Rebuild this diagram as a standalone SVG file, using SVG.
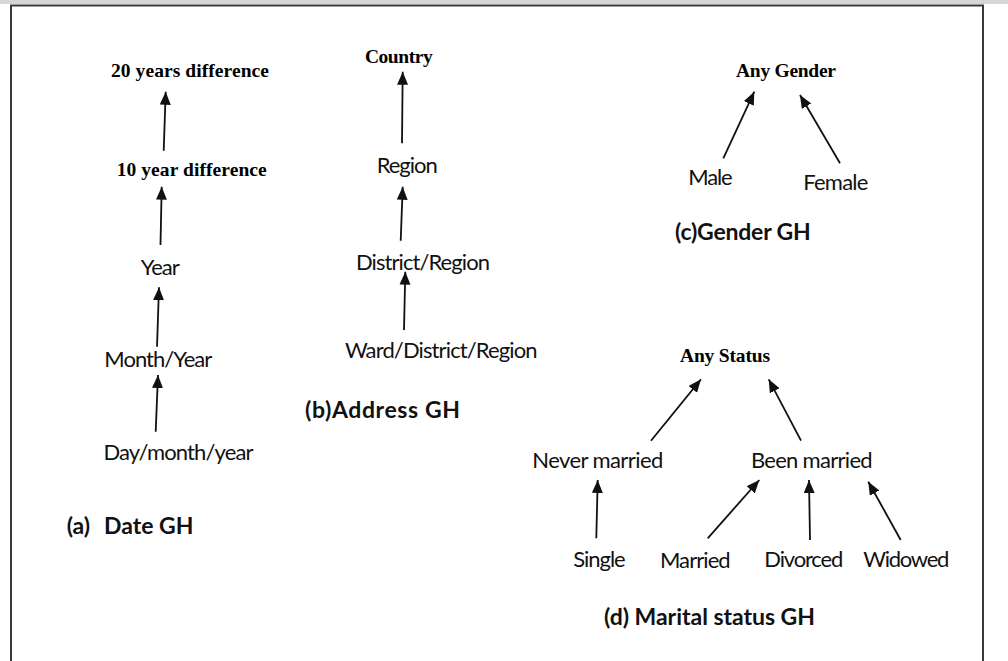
<svg xmlns="http://www.w3.org/2000/svg" width="1008" height="661" viewBox="0 0 1008 661">
  <style>
    .frame { stroke: #3a3a3a; stroke-width: 2; fill: none; }
    .b { font-family: "Liberation Serif", "Times New Roman", serif; font-weight: bold; font-size: 19.5px; fill: #000; text-anchor: middle; }
    .r { font-family: Lato, "Liberation Sans", sans-serif; font-size: 22px; fill: #111; text-anchor: middle; }
    .cap { font-family: Lato, "Liberation Sans", sans-serif; font-weight: bold; font-size: 23px; fill: #111; }
    .edge { stroke: #111; stroke-width: 1.8; fill: none; marker-end: url(#arrow); }
  </style>
  <defs>
    <marker id="arrow" markerUnits="userSpaceOnUse" markerWidth="14" markerHeight="12" refX="13" refY="5.5" orient="auto">
      <path d="M0,0 L13,5.5 L0,11 z" fill="#111"/>
    </marker>
  </defs>

  <rect width="1008" height="661" fill="#fff"/>
  <!-- page frame -->
  <rect x="0" y="0" width="1008" height="4" fill="#d6d6d6"/>
  <line class="frame" x1="10" y1="5.5" x2="984" y2="5.5"/>
  <line class="frame" x1="11" y1="5" x2="11" y2="661"/>
  <line class="frame" x1="983" y1="5" x2="983" y2="661"/>

  <!-- connectors -->
  <g id="connectors">
    <!-- date hierarchy -->
    <line class="edge" x1="163.7" y1="150.7" x2="165.7" y2="91.7"/>
    <line class="edge" x1="160.5" y1="245" x2="161.7" y2="186.7"/>
    <line class="edge" x1="157" y1="346.7" x2="159" y2="287.3"/>
    <line class="edge" x1="155.7" y1="431.7" x2="158" y2="375"/>
    <!-- address hierarchy -->
    <line class="edge" x1="402" y1="143.3" x2="402.7" y2="71.7"/>
    <line class="edge" x1="400.7" y1="240.7" x2="402.7" y2="186.7"/>
    <line class="edge" x1="404" y1="330" x2="405.3" y2="271.7"/>
    <!-- gender hierarchy -->
    <line class="edge" x1="723.3" y1="158.3" x2="754.3" y2="91.7"/>
    <line class="edge" x1="840" y1="163.3" x2="800" y2="95"/>
    <!-- marital status hierarchy -->
    <line class="edge" x1="651" y1="440.7" x2="701" y2="379.3"/>
    <line class="edge" x1="801" y1="440.7" x2="768.7" y2="379.3"/>
    <line class="edge" x1="596.3" y1="538.3" x2="597.7" y2="480"/>
    <line class="edge" x1="707.7" y1="538.3" x2="759.3" y2="480"/>
    <line class="edge" x1="810" y1="540" x2="809" y2="480"/>
    <line class="edge" x1="900.7" y1="540" x2="868.3" y2="481.7"/>
  </g>

  <!-- (a) date -->
  <g id="date-20y"><text class="b" x="190" y="77" textLength="158">20 years difference</text></g>
  <g id="date-10y"><text class="b" x="191.7" y="176" textLength="150">10 year difference</text></g>
  <g id="date-year"><text class="r" x="160.3" y="275" textLength="39">Year</text></g>
  <g id="date-month"><text class="r" x="158.3" y="367" textLength="108">Month/Year</text></g>
  <g id="date-day"><text class="r" x="178.5" y="460" textLength="150">Day/month/year</text></g>
  <g id="caption-a"><text class="cap" x="66.7" y="534">(a)<tspan x="104">Date GH</tspan></text></g>

  <!-- (b) address -->
  <g id="addr-country"><text class="b" x="398.8" y="62.7" textLength="67.7">Country</text></g>
  <g id="addr-region"><text class="r" x="407.2" y="172.7" textLength="61">Region</text></g>
  <g id="addr-district"><text class="r" x="423" y="270" textLength="134">District/Region</text></g>
  <g id="addr-ward"><text class="r" x="441.3" y="358.3" textLength="192.7">Ward/District/Region</text></g>
  <g id="caption-b"><text class="cap" x="305" y="417.7" textLength="155">(b)Address GH</text></g>

  <!-- (c) gender -->
  <g id="gender-any"><text class="b" x="786" y="76.7" textLength="100">Any Gender</text></g>
  <g id="gender-male"><text class="r" x="710.5" y="185" textLength="44.4">Male</text></g>
  <g id="gender-female"><text class="r" x="835.8" y="190" textLength="65">Female</text></g>
  <g id="caption-c"><text class="cap" x="675" y="240" textLength="135.7">(c)Gender GH</text></g>

  <!-- (d) marital status -->
  <g id="ms-any"><text class="b" x="725" y="361.7" textLength="90">Any Status</text></g>
  <g id="ms-never"><text class="r" x="597.8" y="468.3" textLength="131">Never married</text></g>
  <g id="ms-been"><text class="r" x="811.8" y="468.3" textLength="121.7">Been married</text></g>
  <g id="ms-single"><text class="r" x="599.5" y="567.3" textLength="52.4">Single</text></g>
  <g id="ms-married"><text class="r" x="695.3" y="568" textLength="70.7">Married</text></g>
  <g id="ms-divorced"><text class="r" x="803.8" y="567.3" textLength="79">Divorced</text></g>
  <g id="ms-widowed"><text class="r" x="906.3" y="567.3" textLength="86">Widowed</text></g>
  <g id="caption-d"><text class="cap" x="604" y="625" textLength="211">(d) Marital status GH</text></g>
</svg>
